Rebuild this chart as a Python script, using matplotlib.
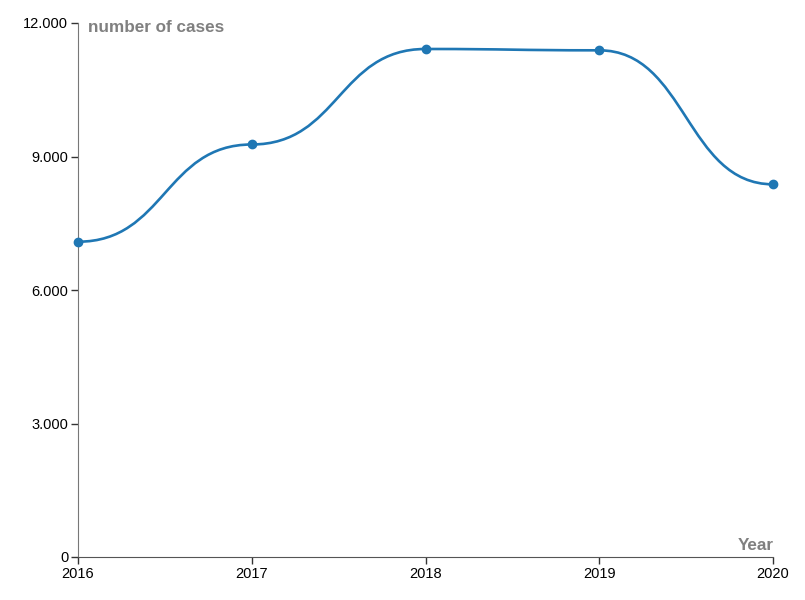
import matplotlib.pyplot as plt
from matplotlib.path import Path
from matplotlib.patches import PathPatch

plt.rcParams.update({"font.family": ["Liberation Sans", "DejaVu Sans"], "font.size": 10})

years = [2016, 2017, 2018, 2019, 2020]
cases = [7085, 9270, 11416, 11386, 8375]
y_ticks = [0, 3000, 6000, 9000, 12000]
y_labels = ["0", "3.000", "6.000", "9.000", "12.000"]

fig = plt.figure(figsize=(8.05, 6), dpi=100)
ax = fig.add_axes([78 / 805, 43 / 600, 695 / 805, 534 / 600])

# bump-x style curve: cubic bezier with horizontal tangents at each point
verts = [(years[0], cases[0])]
codes = [Path.MOVETO]
for i in range(len(years) - 1):
    xm = (years[i] + years[i + 1]) / 2
    verts += [(xm, cases[i]), (xm, cases[i + 1]), (years[i + 1], cases[i + 1])]
    codes += [Path.CURVE4] * 3
ax.add_patch(PathPatch(Path(verts, codes), facecolor="none", edgecolor="#1f77b4",
                       lw=1.9, clip_on=False, zorder=3))
ax.plot(years, cases, "o", color="#1f77b4", ms=6, clip_on=False, zorder=4)

ax.set_xlim(2016, 2020)
ax.set_ylim(0, 12000)
ax.set_xticks(years)
ax.set_xticklabels([str(y) for y in years])
ax.set_yticks(y_ticks)
ax.set_yticklabels(y_labels)
ax.tick_params(axis="both", length=5, width=1, labelsize=10.5, pad=2, colors="#333333",
               labelcolor="black")

for s in ["top", "right"]:
    ax.spines[s].set_visible(False)
ax.spines["left"].set_color("#777777")
ax.spines["bottom"].set_color("#555555")

# axis titles, positions in pixels from the top-left
fig.text(88 / 805, 1 - 27 / 600, "number of cases", ha="left", va="center",
         fontsize=12.3, fontweight="bold", color="#808080")
fig.text(774 / 805, 1 - 545 / 600, "Year", ha="right", va="center",
         fontsize=12.3, fontweight="bold", color="#808080")

fig.savefig("out.png", dpi=100)
